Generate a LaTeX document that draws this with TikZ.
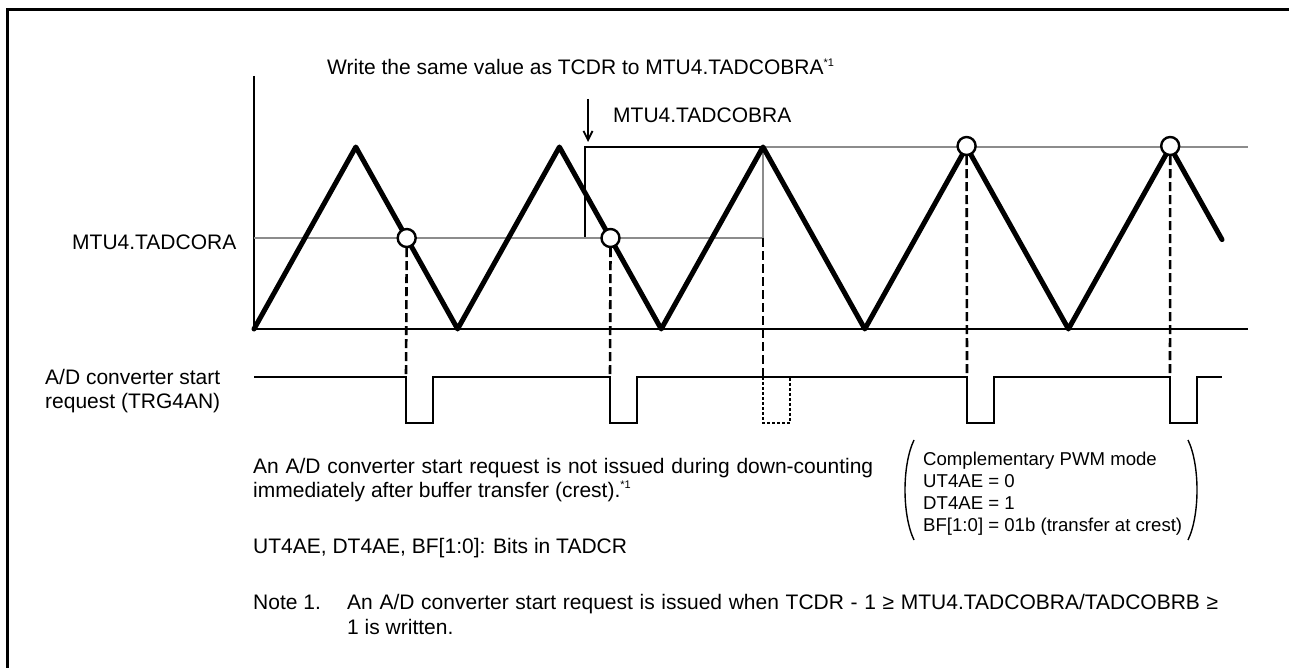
\documentclass[tikz,border=0pt]{standalone}
\usepackage{fontspec}
\setmainfont{Liberation Sans}
\usetikzlibrary{arrows.meta}
\definecolor{lvlgray}{HTML}{8C8C8C}
\begin{document}
\begin{tikzpicture}[x=1pt,y=-1pt,
  wave/.style={line width=5pt, line join=round, line cap=round},
  lvlline/.style={line width=2.8pt, color=lvlgray},
  thinline/.style={line width=1.6pt},
  axisline/.style={line width=1.8pt},
  dashline/.style={line width=2.6pt, dash pattern=on 9pt off 4pt},
  sigline/.style={line width=2.8pt},
  dotsig/.style={line width=2.8pt, dash pattern=on 3pt off 2pt},
  marker/.style={circle, draw, fill=white, line width=2.4pt, minimum size=18pt, inner sep=0pt},
  lbl/.style={font=\fontsize{21}{25}\selectfont, inner sep=0pt, anchor=base west},
  note/.style={font=\fontsize{21}{25}\selectfont, inner sep=0pt, anchor=base west},
  boxtxt/.style={font=\fontsize{18.6}{22}\selectfont, inner sep=0pt, anchor=base west}]
\useasboundingbox (0,0) rectangle (1289,668);
\clip (0,0) rectangle (1289,668);
% frame
\draw[line width=3pt] (7,680) -- (7,10) -- (1300,10);
% axes
\coordinate (ytop) at (254,76);
\coordinate (org) at (254,329);
\coordinate (xend) at (1248,329);
\draw[axisline] (ytop) -- (org) -- (xend);
% levels
\coordinate (ra0) at (254,238);
\coordinate (ra1) at (763,238);
\coordinate (rb0) at (763,147);
\coordinate (rb1) at (1248,147);
\coordinate (wb0) at (585,238);
\coordinate (wb1) at (585,147);
\draw[thinline] (wb0) -- (wb1) -- (rb0);
\draw[lvlline] (ra0) -- (ra1) -- (rb0) -- (rb1);
% arrow
\coordinate (ar0) at (588,99);
\coordinate (ar1) at (588,142);
\draw[line width=1.8pt, -{Straight Barb[length=9pt,width=9pt,line width=1.8pt]}] (ar0) -- (ar1);
% wave
\draw[wave] (254,329) -- (355.8,147) -- (457.6,329) -- (559.4,147) -- (661.2,329) -- (763,147)
  -- (864.8,329) -- (966.6,147) -- (1068.4,329) -- (1170.2,147) -- (1222,239.6);
% signal
\draw[sigline] (254,377) -- (406,377) -- (406,423) -- (433,423) -- (433,377) -- (610,377) -- (610,423)
  -- (637,423) -- (637,377) -- (967,377) -- (967,423) -- (994,423) -- (994,377) -- (1170,377)
  -- (1170,423) -- (1197,423) -- (1197,377) -- (1222,377);
\coordinate (d3) at (763,377);
\draw[dotsig] (d3) -- (763,423) -- (790,423) -- (790,377);
% markers
\node[marker] (c1) at (406.7,238) {};
\node[marker] (c2) at (610.5,238) {};
\node[marker] (c3) at (966.6,146) {};
\node[marker] (c4) at (1170.2,146) {};
\coordinate (p1) at (406,377);
\coordinate (p2) at (610,377);
\coordinate (p4) at (967,377);
\coordinate (p5) at (1170,377);
\draw[dashline] (c1.south) -- (p1);
\draw[dashline] (c2.south) -- (p2);
\draw[dashline] (ra1) -- (d3);
\draw[dashline] (c3.south) -- (p4);
\draw[dashline] (c4.south) -- (p5);
% texts
\node[lbl] (t1) at (327,75) {Write the same value as TCDR to MTU4.TADCOBRA\raisebox{8pt}{\fontsize{11}{11}\selectfont *1}};
\node[lbl] (t2) at (613,123) {MTU4.TADCOBRA};
\node[lbl] (t3) at (72,250) {MTU4.TADCORA};
\node[lbl] (t4a) at (45,384) {A/D converter start};
\node[lbl] (t4b) at (45,408) {request (TRG4AN)};
\node[note] (t5a) at (253,473) {\hbox to 620pt{An A/D converter start request is not issued during down-counting}};
\node[note] (t5b) at (253,497) {immediately after buffer transfer (crest).\raisebox{9pt}{\fontsize{11}{11}\selectfont *1}};
\node[note] (t6) at (253,553) {UT4AE, DT4AE, BF[1:0]: Bits in TADCR};
\node[note] (t7) at (253,609) {Note 1.};
\node[note] (t8a) at (347,609) {\hbox to 871pt{An A/D converter start request is issued when TCDR - 1 ≥ MTU4.TADCOBRA/TADCOBRB ≥}};
\node[note] (t8b) at (347,634) {1 is written.};
\node[boxtxt] (t9a) at (923,465) {Complementary PWM mode};
\node[boxtxt] (t9b) at (923,487) {UT4AE = 0};
\node[boxtxt] (t9c) at (923,509) {DT4AE = 1};
\node[boxtxt] (t9d) at (923,531) {BF[1:0] = 01b (transfer at crest)};
% brackets
\draw[line width=1.4pt] (914,440) .. controls (902,465) and (902,515) .. (914,540);
\draw[line width=1.4pt] (1188,440) .. controls (1200,465) and (1200,515) .. (1188,540);
\end{tikzpicture}
\end{document}
